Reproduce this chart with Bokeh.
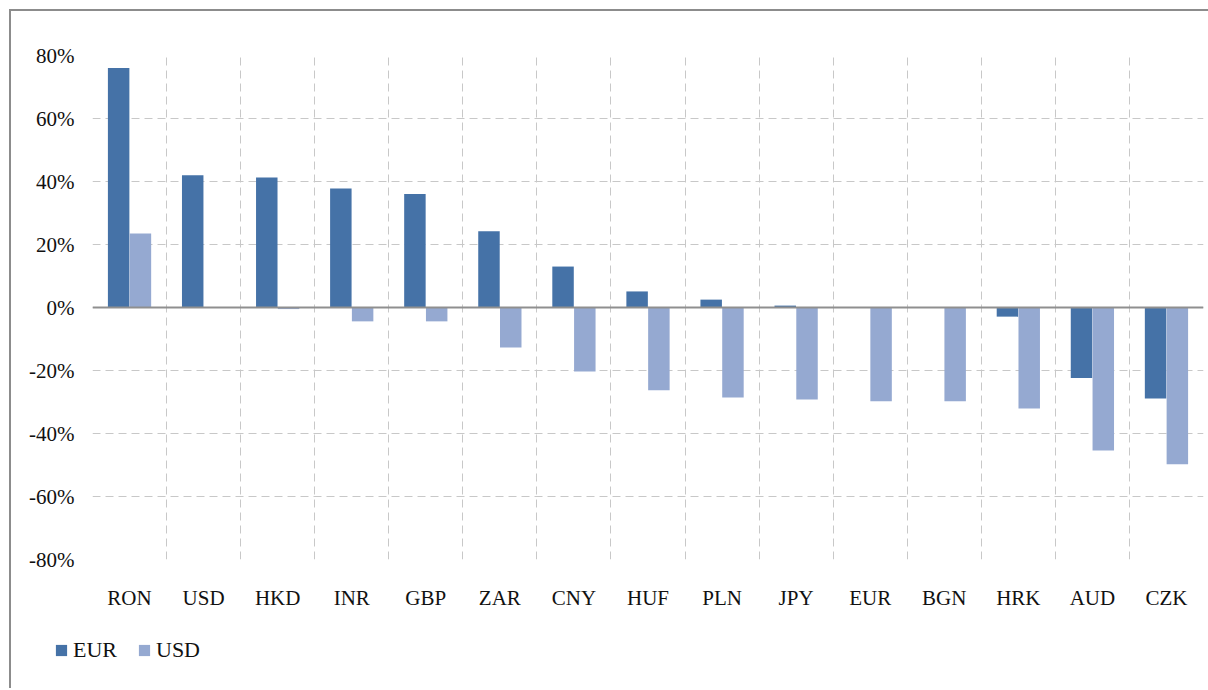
from bokeh.plotting import figure
from bokeh.layouts import column
from bokeh.models import (ColumnDataSource, Range1d, FixedTicker, PrintfTickFormatter,
                          Span, Legend, LegendItem)
from bokeh.embed import file_html
from bokeh.resources import INLINE

currencies = ["RON", "USD", "HKD", "INR", "GBP", "ZAR", "CNY", "HUF", "PLN", "JPY",
              "EUR", "BGN", "HRK", "AUD", "CZK"]
eur_values = [76.0, 42.0, 41.3, 37.8, 36.0, 24.2, 13.0, 5.1, 2.5, 0.6,
              0.0, 0.1, -2.9, -22.4, -28.9]
usd_values = [23.5, 0.0, -0.5, -4.4, -4.4, -12.7, -20.3, -26.3, -28.6, -29.2,
              -29.8, -29.8, -32.1, -45.4, -49.8]
y_ticks = [-80, -60, -40, -20, 0, 20, 40, 60, 80]
series_names = ["EUR", "USD"]

EUR_COLOR = "#4572A7"
USD_COLOR = "#95A9D1"
FONT = "'Liberation Serif', 'Times New Roman', serif"

idx = list(range(len(currencies)))
offset = 0.147
bw = 0.29
src = ColumnDataSource(dict(
    cur=currencies,
    x_eur=[i + 0.5 - offset for i in idx],
    x_usd=[i + 0.5 + offset for i in idx],
    eur=eur_values,
    usd=usd_values,
))

p = figure(width=1197, height=609, output_backend="svg", toolbar_location=None,
           x_range=Range1d(0, len(currencies)), y_range=Range1d(-80, 80),
           min_border_left=81, min_border_right=5, min_border_top=44,
           min_border_bottom=61)
p.frame_align = False
p.outline_line_color = None
p.background_fill_color = "white"
p.border_fill_color = "white"

p.vbar(x="x_eur", top="eur", width=bw, source=src, fill_color=EUR_COLOR, line_color=None)
p.vbar(x="x_usd", top="usd", width=bw, source=src, fill_color=USD_COLOR, line_color=None)

# axes
p.xaxis.ticker = FixedTicker(ticks=[i + 0.5 for i in idx])
p.xaxis.major_label_overrides = {i + 0.5: c for i, c in zip(idx, currencies)}
p.xaxis.axis_line_color = None
p.xaxis.major_tick_line_color = None
p.xaxis.major_tick_out = 0
p.xaxis.major_tick_in = 0
p.xaxis.minor_tick_line_color = None
p.xaxis.major_label_standoff = 26
p.xaxis.major_label_text_font = FONT
p.xaxis.major_label_text_font_size = "21px"
p.xaxis.major_label_text_color = "#111111"

p.yaxis.ticker = FixedTicker(ticks=y_ticks)
p.yaxis.formatter = PrintfTickFormatter(format="%d%%")
p.yaxis.axis_line_color = None
p.yaxis.major_tick_line_color = None
p.yaxis.major_tick_out = 0
p.yaxis.major_tick_in = 0
p.yaxis.minor_tick_line_color = None
p.yaxis.major_label_standoff = 18
p.yaxis.major_label_text_font = FONT
p.yaxis.major_label_text_font_size = "21px"
p.yaxis.major_label_text_color = "#111111"

# grids
p.xgrid.ticker = FixedTicker(ticks=list(range(len(currencies) + 1)))
p.ygrid.ticker = FixedTicker(ticks=y_ticks)
for g in (p.xgrid, p.ygrid):
    g.grid_line_color = "#c8c8c8"
    g.grid_line_dash = "8 5"
    g.grid_line_width = 1

p.add_layout(Span(location=0, dimension="width", line_color="#8f8f8f", line_width=2))

# legend strip
pl = figure(width=1197, height=68, output_backend="svg", toolbar_location=None,
            x_range=Range1d(0, 1), y_range=Range1d(0, 1),
            min_border_left=0, min_border_right=0, min_border_top=0, min_border_bottom=0)
pl.frame_align = False
pl.outline_line_color = None
pl.axis.visible = False
pl.grid.visible = False
# legend-only renderers, placed outside the visible range
lr_eur = pl.vbar(x=[5], top=[1], width=0.1, fill_color=EUR_COLOR, line_color=None)
lr_usd = pl.vbar(x=[5], top=[1], width=0.1, fill_color=USD_COLOR, line_color=None)

legend = Legend(items=[LegendItem(label=series_names[0], renderers=[lr_eur]),
                       LegendItem(label=series_names[1], renderers=[lr_usd])],
                location=(43, 25), orientation="horizontal")
legend.border_line_color = None
legend.background_fill_alpha = 0
legend.padding = 0
legend.margin = 0
legend.spacing = 20
legend.glyph_width = 14
legend.glyph_height = 14
legend.label_standoff = 5
legend.label_text_font = FONT
legend.label_text_font_size = "22px"
legend.label_text_color = "#111111"
legend.label_height = 20
pl.add_layout(legend)

layout = column(p, pl, spacing=0,
                styles={"margin-left": "9px", "margin-top": "9px",
                        "border-left": "2px solid #8c8c8c",
                        "border-top": "2px solid #8c8c8c"})

open("out.html", "w").write(file_html(layout, INLINE))
